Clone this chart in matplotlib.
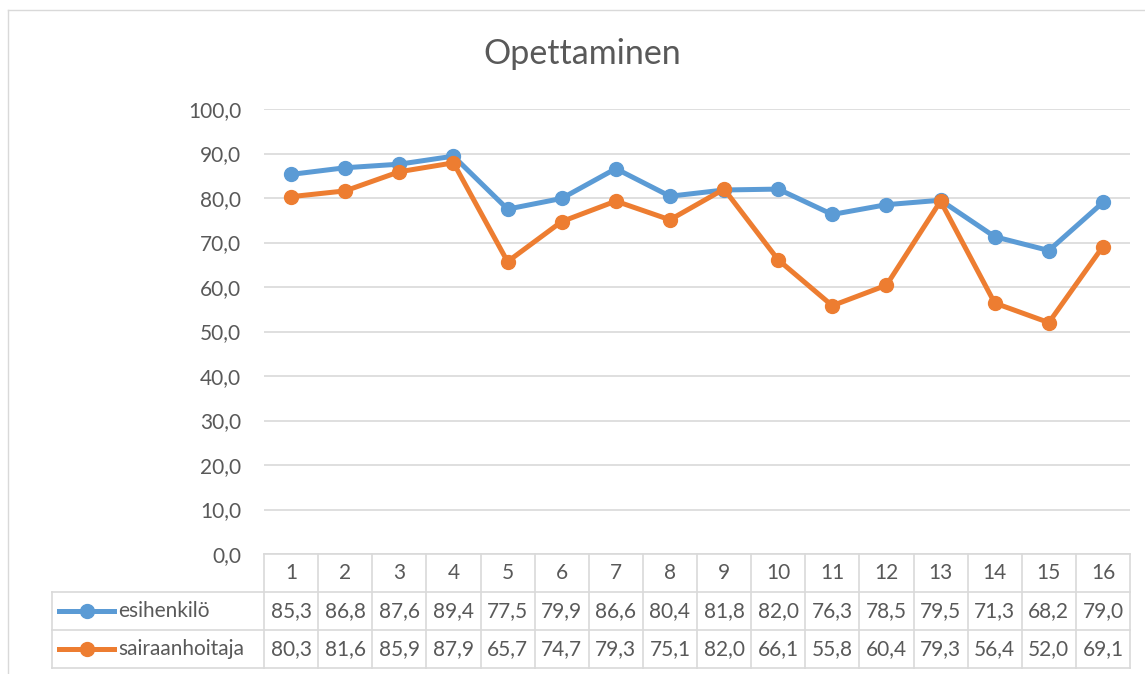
import matplotlib
matplotlib.use("Agg")
import matplotlib.pyplot as plt
from matplotlib.lines import Line2D

categories = [str(i) for i in range(1, 17)]
esihenkilo = [85.3, 86.8, 87.6, 89.4, 77.5, 79.9, 86.6, 80.4, 81.8, 82.0, 76.3, 78.5, 79.5, 71.3, 68.2, 79.0]
sairaanhoitaja = [80.3, 81.6, 85.9, 87.9, 65.7, 74.7, 79.3, 75.1, 82.0, 66.1, 55.8, 60.4, 79.3, 56.4, 52.0, 69.1]
series_names = ["esihenkilö", "sairaanhoitaja"]
colors = ["#5B9BD5", "#ED7D31"]
yticks = [0, 10, 20, 30, 40, 50, 60, 70, 80, 90, 100]

plt.rcParams['font.family'] = ['Lato', 'DejaVu Sans']
TXT = "#595959"
GRID = "#D9D9D9"
FS = 15

W, H = 1145, 674
fig = plt.figure(figsize=(W / 100, H / 100), dpi=100)

def fx(px):
    return px / W

def fy(py):
    return 1 - py / H

L, R, T, B = 264, 1130, 109, 554
ax = fig.add_axes([fx(L), fy(B), fx(R - L), (B - T) / H])

n = len(categories)
xs = [i + 0.5 for i in range(n)]
for vals, c in zip([esihenkilo, sairaanhoitaja], colors):
    ax.plot(xs, vals, color=c, lw=3.6, marker='o', ms=10, zorder=3)

ax.set_xlim(0, n)
ax.set_ylim(0, 100)
ax.set_yticks(yticks)
ax.set_yticklabels([f"{v:.1f}".replace('.', ',') for v in yticks], color=TXT, fontsize=FS)
ax.tick_params(axis='y', length=0, pad=16.5)
ax.set_xticks([])
for s in ax.spines.values():
    s.set_visible(False)
ax.yaxis.grid(True, color=GRID, lw=1.2)
ax.set_axisbelow(True)

# title
fig.text(fx(582), fy(54), "Opettaminen", ha='center', va='center', fontsize=24.5, color=TXT)

# chart border
fig.add_artist(Line2D([fx(8), fx(8)], [fy(10), fy(H + 5)], color=GRID, lw=1))
fig.add_artist(Line2D([fx(8), fx(1144)], [fy(10), fy(10)], color=GRID, lw=1))

# data table
colw = (R - L) / n
rows_y = [554, 592, 630, 668]
LEG_L = 52

def hline(y, x0, x1):
    fig.add_artist(Line2D([fx(x0), fx(x1)], [fy(y), fy(y)], color=GRID, lw=1.2))

def vline(x, y0, y1):
    fig.add_artist(Line2D([fx(x), fx(x)], [fy(y0), fy(y1)], color=GRID, lw=1.2))

hline(rows_y[0], L, R)
for y in rows_y[1:]:
    hline(y, LEG_L, R)
for i in range(n + 1):
    vline(L + i * colw, rows_y[0], rows_y[3])
vline(LEG_L, rows_y[1], rows_y[3])

for i, cat in enumerate(categories):
    cx = L + (i + 0.5) * colw
    fig.text(fx(cx), fy((rows_y[0] + rows_y[1]) / 2), cat, ha='center', va='center', fontsize=FS, color=TXT)

for r, (vals, name, c) in enumerate(zip([esihenkilo, sairaanhoitaja], series_names, colors)):
    cy = (rows_y[r + 1] + rows_y[r + 2]) / 2
    for i, v in enumerate(vals):
        cx = L + (i + 0.5) * colw
        fig.text(fx(cx), fy(cy), f"{v:.1f}".replace('.', ','), ha='center', va='center', fontsize=FS, color=TXT)
    fig.add_artist(Line2D([fx(59), fx(114)], [fy(cy), fy(cy)], color=c, lw=3.6))
    fig.add_artist(Line2D([fx(87)], [fy(cy)], color=c, marker='o', ms=10, lw=0))
    fig.text(fx(118), fy(cy), name, ha='left', va='center', fontsize=FS, color=TXT)

fig.savefig("out.png", dpi=100)
